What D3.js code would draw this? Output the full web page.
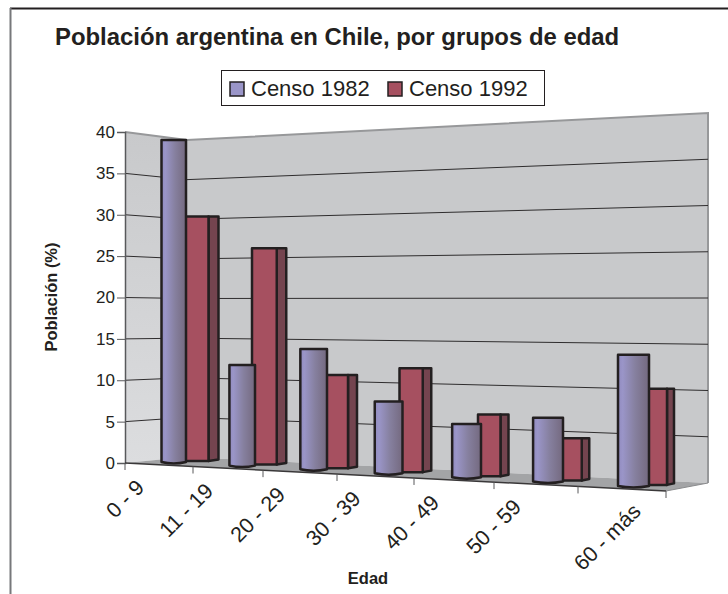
<!DOCTYPE html>
<html>
<head>
<meta charset="utf-8">
<script src="https://cdn.jsdelivr.net/npm/d3@7"></script>
<style>
    body { margin: 0; background: #fff; }
    svg { display: block; }
    text { font-family: "Liberation Sans", Arial, sans-serif; fill: #231f20; }
</style>
</head>
<body>
<svg id="chart" width="728" height="594"></svg>
<script>
const categories = ['0 - 9', '11 - 19', '20 - 29', '30 - 39', '40 - 49', '50 - 59', '60 - más'];
const censo1982 = [39, 12, 14, 8.2, 6, 7, 14];
const censo1992 = [30, 26, 11, 12, 7, 4.7, 10.5];
const yTicks = [0, 5, 10, 15, 20, 25, 30, 35, 40];
const seriesNames = ['Censo 1982', 'Censo 1992'];

const svg = d3.select('#chart');
const ink = '#231f20';

// --- perspective: the three wall edges each get their own value scale ---
const yFront = d3.scaleLinear().domain([0, 40]).range([463, 132]);
const yCorner = d3.scaleLinear().domain([0, 40]).range([457, 140]);
const yRight = d3.scaleLinear().domain([0, 40]).range([483, 113]);
const wallX = { front: 125, corner: 187, right: 708 };

// category axis gets wider towards the viewer, so it is not evenly spaced
const xEdge = d3.scaleLinear().domain(d3.range(8)).range([125, 193, 263, 337, 414, 494, 578, 666]);
const axisY = d3.scaleLinear().domain([125, 666]).range([463, 491]);

const cylWidth = d3.scaleLinear().domain([0, 6]).range([24.5, 31]);
const boxWidth = d3.scaleLinear().domain([0, 6]).range([22.5, 18]);
const boxSide = d3.scaleLinear().domain([0, 6]).range([10, 7]);
const unit1982 = d3.scaleLinear().domain([0, 6]).range([8.28, 9.45]);
const unit1992 = d3.scaleLinear().domain([0, 6]).range([8.15, 9.15]);

const defs = svg.append('defs');
const cylGrad = defs.append('linearGradient').attr('id', 'cyl');
cylGrad.selectAll('stop')
    .data([[0, '#918bbf'], [0.15, '#9a95c8'], [0.55, '#86809f'], [1, '#74697f']])
    .join('stop')
    .attr('offset', d => d[0])
    .attr('stop-color', d => d[1]);
const leftWallGrad = defs.append('linearGradient').attr('id', 'leftwall')
    .attr('x1', 0).attr('y1', 0).attr('x2', 0).attr('y2', 1);
leftWallGrad.selectAll('stop')
    .data([[0, '#c8c9cb'], [1, '#dcdddf']])
    .join('stop')
    .attr('offset', d => d[0])
    .attr('stop-color', d => d[1]);

// outer frame, open at the right and bottom edges
svg.append('line')
    .attr('x1', 10).attr('y1', 8.5).attr('x2', 728).attr('y2', 8.5)
    .attr('stroke', ink).attr('stroke-width', 2);
svg.append('line')
    .attr('x1', 10.5).attr('y1', 8).attr('x2', 10.5).attr('y2', 594)
    .attr('stroke', '#77787b').attr('stroke-width', 2);

// --- walls and floor ---
const polygon = (pts, fill) => svg.append('polygon')
    .attr('points', pts.map(p => p.join(',')).join(' '))
    .attr('fill', fill);

polygon([[wallX.front, yFront(40)], [wallX.corner, yCorner(40)], [wallX.corner, yCorner(0)], [wallX.front, yFront(0)]], 'url(#leftwall)');
polygon([[wallX.corner, yCorner(40)], [wallX.right, yRight(40)], [wallX.right, yRight(0)], [wallX.corner, yCorner(0)]], '#c8c9cb');
polygon([[wallX.front, yFront(0)], [wallX.corner, yCorner(0)], [wallX.right, yRight(0)], [666, axisY(666)]], '#a3a4a6');

// wall outline along the top and right
svg.append('polyline')
    .attr('points', [[wallX.front, yFront(40)], [wallX.corner, yCorner(40)], [wallX.right, yRight(40)], [wallX.right, yRight(0)]].map(p => p.join(',')).join(' '))
    .attr('fill', 'none')
    .attr('stroke', '#97989a')
    .attr('stroke-width', 2);

// --- gridlines ---
svg.append('g').selectAll('polyline')
    .data(yTicks.filter(d => d > 0 && d < 40))
    .join('polyline')
    .attr('points', d => [[wallX.front, yFront(d)], [wallX.corner, yCorner(d)], [wallX.right, yRight(d)]].map(p => p.join(',')).join(' '))
    .attr('fill', 'none')
    .attr('stroke', '#2f2d2e')
    .attr('stroke-width', 1);

// --- bars, box behind cylinder in each group ---
const bars = svg.append('g');
categories.forEach((cat, i) => {
    const center = (xEdge(i) + xEdge(i + 1)) / 2 + 27;
    const yBox = d3.scaleLinear().domain([0, 40])
        .range([axisY(center + 11) - 5.8, axisY(center + 11) - 5.8 - 40 * unit1992(i)]);
    const yCyl = d3.scaleLinear().domain([0, 40])
        .range([axisY(center - 12) - 2.5, axisY(center - 12) - 2.5 - 40 * unit1982(i)]);

    const boxR = center + boxWidth(i);
    const boxL = center - 3;
    const side = boxSide(i);
    const g = bars.append('g').attr('stroke', ink).attr('stroke-width', 2.5).attr('stroke-linejoin', 'round');

    g.append('path')
        .attr('fill', '#74444f')
        .attr('d', `M${boxR},${yBox(censo1992[i])}h${side}V${yBox(0) - 1.5}l${-side},1.5Z`);
    g.append('rect')
        .attr('fill', '#a65060')
        .attr('x', boxL)
        .attr('y', yBox(censo1992[i]))
        .attr('width', boxR - boxL)
        .attr('height', yBox(0) - yBox(censo1992[i]));

    const w = cylWidth(i);
    const cylL = center - w;
    g.append('path')
        .attr('fill', 'url(#cyl)')
        .attr('d', `M${cylL},${yCyl(censo1982[i])}h${w}V${yCyl(0) - 1}q${-w / 2},3 ${-w},0Z`);
});

// --- axes ---
const yAxis = svg.append('g')
    .attr('transform', `translate(${wallX.front},0)`)
    .call(d3.axisLeft(yFront).tickValues(yTicks).tickSize(8).tickPadding(2));
yAxis.select('.domain').attr('stroke', '#58595b').attr('stroke-width', 1.5);
yAxis.selectAll('line').attr('stroke', '#58595b');
yAxis.selectAll('text').attr('font-size', 17).attr('fill', ink);

// base line runs on the slant, so the ticks get moved down onto it
svg.append('line')
    .attr('x1', wallX.front).attr('y1', yFront(0))
    .attr('x2', 666).attr('y2', axisY(666))
    .attr('stroke', '#3a3839')
    .attr('stroke-width', 1.5);
svg.append('line')
    .attr('x1', 666).attr('y1', axisY(666))
    .attr('x2', wallX.right).attr('y2', yRight(0))
    .attr('stroke', '#8a8b8d')
    .attr('stroke-width', 1);

const xAxis = svg.append('g')
    .call(d3.axisBottom(xEdge).tickValues(d3.range(8)).tickSize(7).tickFormat(''));
xAxis.select('.domain').remove();
xAxis.selectAll('.tick')
    .attr('transform', d => `translate(${xEdge(d)},${axisY(xEdge(d))})`);
xAxis.selectAll('line').attr('stroke', '#58595b');

svg.append('g').selectAll('text')
    .data(categories)
    .join('text')
    .attr('text-anchor', 'end')
    .attr('font-size', 21.5)
    .attr('transform', (d, i) => {
        const mid = (xEdge(i) + xEdge(i + 1)) / 2;
        const x = i === 6 ? mid + 20 : mid - 13.5;
        return `translate(${x},${axisY(mid) + 24}) rotate(-45)`;
    })
    .text(d => d);

// --- titles ---
svg.append('text')
    .attr('x', 55).attr('y', 45)
    .attr('font-size', 23.9).attr('font-weight', 'bold')
    .text('Población argentina en Chile, por grupos de edad');
svg.append('text')
    .attr('transform', 'translate(57,297) rotate(-90)')
    .attr('text-anchor', 'middle')
    .attr('font-size', 16.5).attr('font-weight', 'bold')
    .text('Población (%)');
svg.append('text')
    .attr('x', 368).attr('y', 584)
    .attr('text-anchor', 'middle')
    .attr('font-size', 16.5).attr('font-weight', 'bold')
    .text('Edad');

// --- legend ---
const legend = svg.append('g');
legend.append('rect')
    .attr('x', 221.5).attr('y', 70.5).attr('width', 323).attr('height', 35)
    .attr('fill', '#fff').attr('stroke', ink);
const legendX = d3.scalePoint().domain(seriesNames).range([230, 388]);
const legendColor = d3.scaleOrdinal().domain(seriesNames).range(['#9a95c8', '#a65060']);
seriesNames.forEach(name => {
    legend.append('rect')
        .attr('x', legendX(name)).attr('y', 82).attr('width', 14).attr('height', 14)
        .attr('fill', legendColor(name)).attr('stroke', ink).attr('stroke-width', 1.5);
    legend.append('text')
        .attr('x', legendX(name) + 21).attr('y', 96)
        .attr('font-size', 22)
        .text(name);
});
</script>
</body>
</html>
